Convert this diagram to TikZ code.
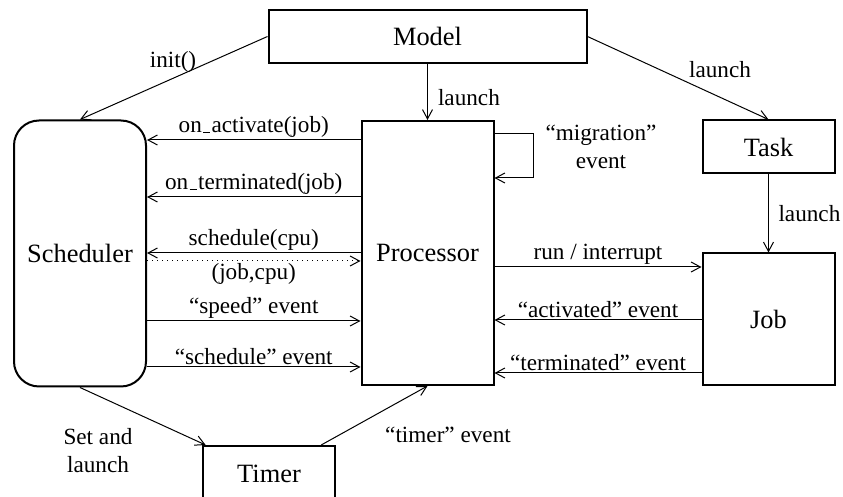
\documentclass[tikz,border=0pt]{standalone}
\usepackage{fontspec}
\setmainfont{Liberation Serif}
\usetikzlibrary{arrows.meta}
\newcommand\uscore{\kern.06em\vbox{\hrule width.3em}\kern.06em}
\begin{document}
\begin{tikzpicture}[x=0.5pt,y=-0.5pt,
  box/.style={draw, line width=1pt, inner sep=0pt, font=\fontsize{13.2}{15}\selectfont},
  lbl/.style={inner sep=1pt, font=\fontsize{11.6}{14}\selectfont},
  conn/.style={line width=0.5pt, -{Straight Barb[length=4.7pt,width=5pt]}},
]
\clip (0,0) rectangle (843,497);
% nodes
\node[box, minimum width=159pt, minimum height=26.5pt] (model) at (427.5,36.5) {Model};
\node[box, minimum width=66pt, minimum height=133pt, rounded corners=12.5pt] (sched) at (80,253.5) {Scheduler};
\node[box, minimum width=66pt, minimum height=132pt] (proc) at (427.5,253) {Processor};
\node[box, minimum width=66pt, minimum height=26.5pt] (task) at (768.5,147) {Task};
\node[box, minimum width=66pt, minimum height=66pt] (job) at (768.5,319.5) {Job};
\node[box, minimum width=66pt, minimum height=28pt] (timer) at (269,474) {Timer};
% y levels
\coordinate (yA) at (0,140);
\coordinate (yB) at (0,197);
\coordinate (yC) at (0,253);
\coordinate (yD) at (0,261);
\coordinate (yE) at (0,321);
\coordinate (yF) at (0,367);
\coordinate (yR) at (0,267);
\coordinate (yG) at (0,320);
\coordinate (yH) at (0,373);
\coordinate (l1) at (533,134);
\coordinate (l2) at (533,178);
% connectors
\draw[conn] (model.west) -- (sched.north);
\node[lbl] (initlbl) at (173,62) {init()};
\draw[conn] (model.south) -- node[lbl, pos=0.6, right=4pt] (l3) {launch} (proc.north);
\draw[conn] (model.east) -- (task.north);
\node[lbl] (tasklbl) at (720,70) {launch};
\draw[conn] (task.south) -- node[lbl, midway, right=3.75pt] (l4) {launch} (job.north);

\draw[conn] (proc.west |- yA) -- node[lbl, above] (la) {on\uscore activate(job)} (sched.east |- yA);
\draw[conn] (proc.west |- yB) -- node[lbl, above] (lb) {on\uscore terminated(job)} (sched.east |- yB);
\draw[conn] (proc.west |- yC) -- node[lbl, above] (lc) {schedule(cpu)} (sched.east |- yC);
\draw[conn, dotted] (sched.east |- yD) -- node[lbl, below] (ld) {(job,cpu)} (proc.west |- yD);
\draw[conn] (sched.east |- yE) -- node[lbl, above] (le) {“speed” event} (proc.west |- yE);
\draw[conn] (sched.east |- yF) -- node[lbl, above] (lf) {“schedule” event} (proc.west |- yF);

\draw[conn] (proc.east |- l1) -- (l1) -- (l2) -- (proc.east |- l2);
\node[lbl, align=center] (miglbl) at (601,147) {“migration”\\event};

\draw[conn] (proc.east |- yR) -- node[lbl, above] (lr) {run / interrupt} (job.west |- yR);
\draw[conn] (job.west |- yG) -- node[lbl, above] (lg) {“activated” event} (proc.east |- yG);
\draw[conn] (job.west |- yH) -- node[lbl, above] (lh) {“terminated” event} (proc.east |- yH);

\draw[conn] (sched.south) -- (timer);
\node[lbl, align=center] (setlbl) at (98,451) {Set and\\launch};
\draw[conn] (timer) -- (proc.south);
\node[lbl] (timerlbl) at (448,435) {“timer” event};
\end{tikzpicture}
\end{document}
